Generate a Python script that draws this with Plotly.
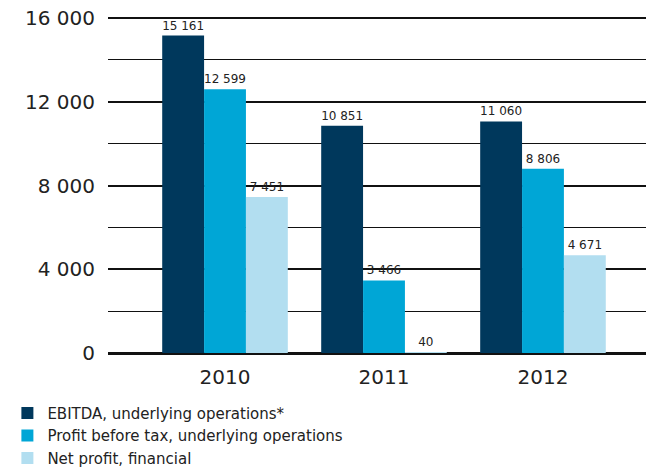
import plotly.graph_objects as go

years = ["2010", "2011", "2012"]
ebitda = [15161, 10851, 11060]
pbt = [12599, 3466, 8806]
net_profit = [7451, 40, 4671]
series_names = ["EBITDA, underlying operations*",
                "Profit before tax, underlying operations",
                "Net profit, financial"]
colors = ["#00385C", "#00A6D6", "#B2DEF0"]
y_ticks = [0, 4000, 8000, 12000, 16000]

FONT = "DejaVu Sans"

def fmt(v):
    return f"{v:,}".replace(",", " ")

fig = go.Figure()
for name, vals, col in zip(series_names, [ebitda, pbt, net_profit], colors):
    fig.add_trace(go.Bar(
        x=years, y=vals, name=name, marker=dict(color=col, line=dict(width=0)),
        text=[fmt(v) for v in vals], textposition="outside",
        constraintext="none",
        textfont=dict(size=12, color="#222222", family=FONT),
        cliponaxis=False,
    ))

fig.update_layout(
    width=646, height=468,
    margin=dict(l=108, r=0, t=17, b=115, autoexpand=False),
    paper_bgcolor="white", plot_bgcolor="white",
    barmode="group", bargap=0.21, bargroupgap=0,
    font=dict(family=FONT, color="#222222"),
    showlegend=True,
    legend=dict(xref="paper", yref="container", x=-0.187, y=0.152,
                xanchor="left", yanchor="top", orientation="v",
                font=dict(size=15, color="#222222", family=FONT),
                tracegroupgap=0, itemwidth=30, bgcolor="rgba(0,0,0,0)"),
    xaxis=dict(range=[-0.736, 2.648], showgrid=False, showline=False,
               zeroline=False, ticks="", tickfont=dict(size=20),
               ticklabelstandoff=10),
    yaxis=dict(range=[0, 16050], tickvals=y_ticks,
               ticktext=[fmt(v) for v in y_ticks],
               showgrid=True, gridcolor="#111111", gridwidth=2,
               zeroline=True, zerolinecolor="#111111", zerolinewidth=3,
               showline=False, ticks="", tickfont=dict(size=20),
               ticklabelstandoff=12, ticklabeloverflow="allow",
               minor=dict(dtick=2000, tick0=0, showgrid=True,
                          gridcolor="#111111", gridwidth=1.3)),
)

fig.write_html("out.html",
               config={"displayModeBar": False},
               post_script="document.body.style.margin='0';"
                           "document.body.style.overflow='hidden';")
